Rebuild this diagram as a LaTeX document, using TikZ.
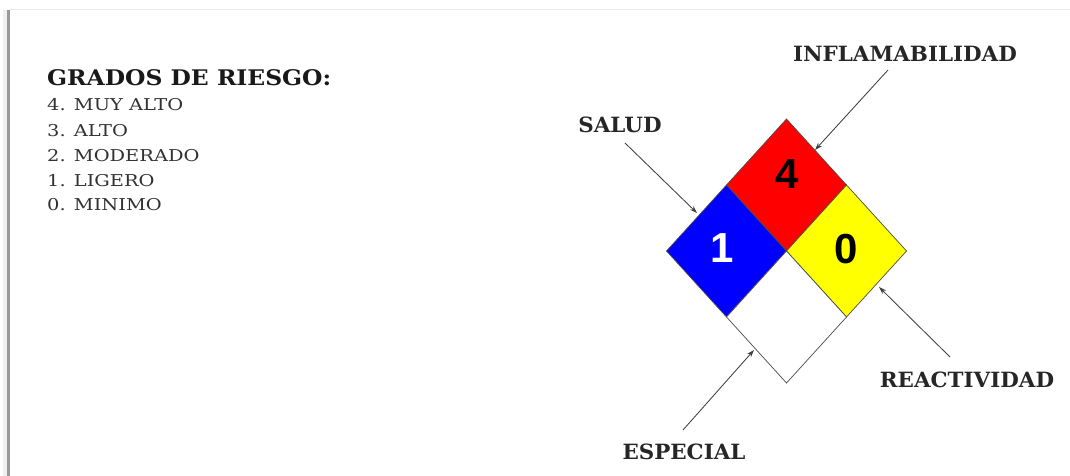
\documentclass[tikz,border=0pt]{standalone}
\usepackage{fontspec}
\setmainfont{DejaVu Serif}
\newfontfamily\numfont{Liberation Sans}
\newfontfamily\listfont[FakeStretch=1.19]{DejaVu Serif}
\newfontfamily\titlefont[FakeStretch=1.09]{DejaVu Serif}
\newfontfamily\labfont[FakeStretch=1.02]{DejaVu Serif}
\usetikzlibrary{arrows.meta}
\definecolor{nfred}{RGB}{255,0,0}
\definecolor{nfblue}{RGB}{0,0,255}
\definecolor{nfyellow}{RGB}{255,255,0}
\definecolor{txtgray}{RGB}{50,50,50}
\begin{document}
\begin{tikzpicture}[x=1pt,y=-1pt,
  sq/.style={draw=black!70,line width=0.7pt,line join=miter},
  digit/.style={font=\numfont\bfseries\fontsize{42}{42}\selectfont,inner sep=0pt,anchor=center},
  lab/.style={font=\labfont\bfseries\fontsize{21}{21}\selectfont,inner sep=0pt,anchor=base,text=black!85},
  item/.style={font=\listfont\fontsize{16.3}{16.3}\selectfont,inner sep=0pt,anchor=base west,text=txtgray},
  ptr/.style={draw=black!75,line width=0.85pt,-{Stealth[length=7.5pt,width=5pt]}}]
\useasboundingbox (0,0) rectangle (1070,476);
\fill[white] (0,0) rectangle (1070,476);
% page edge shadow
\fill[black!6] (3,10) rectangle (6.5,476);
\fill[black!40] (7,10) rectangle (9.5,476);
\fill[black!9] (9,9) rectangle (1070,10.5);
% legend
\node[font=\titlefont\bfseries\fontsize{21.5}{21.5}\selectfont,inner sep=0pt,anchor=base west,text=black!90] (title) at (47,86) {GRADOS DE RIESGO:};
\node[item] (g4) at (47,111) {4. MUY ALTO};
\node[item] (g3) at (47,136) {3. ALTO};
\node[item] (g2) at (47,161) {2. MODERADO};
\node[item] (g1) at (47,186) {1. LIGERO};
\node[item] (g0) at (47,210) {0. MINIMO};
% diamond
\coordinate (C) at (786.5,251);
\filldraw[sq,fill=nfred] (C) -- ++(-60,-66) -- ++(60,-66) -- ++(60,66) -- cycle;
\filldraw[sq,fill=nfblue] (C) -- ++(-60,-66) -- ++(-60,66) -- ++(60,66) -- cycle;
\filldraw[sq,fill=nfyellow] (C) -- ++(60,-66) -- ++(60,66) -- ++(-60,66) -- cycle;
\filldraw[sq,fill=white] (C) -- ++(-60,66) -- ++(60,66) -- ++(60,-66) -- cycle;
\node[digit,text=black] (d4) at (787,174) {4};
\node[digit,text=white] (d1) at (722,248) {1};
\node[digit,text=black] (d0) at (846,249) {0};
% labels
\node[lab] (salud) at (620,132) {SALUD};
\node[lab] (infl) at (905,62) {INFLAMABILIDAD};
\node[lab] (reac) at (967,387) {REACTIVIDAD};
\node[lab] (esp) at (684,459) {ESPECIAL};
% pointers
\coordinate (salA) at (625,143); \coordinate (salB) at (697,213);
\coordinate (infA) at (888,70);  \coordinate (infB) at (815,150);
\coordinate (reaA) at (950,357); \coordinate (reaB) at (879,287);
\coordinate (espA) at (683,430); \coordinate (espB) at (754,350);
\draw[ptr] (salA) -- (salB);
\draw[ptr] (infA) -- (infB);
\draw[ptr] (reaA) -- (reaB);
\draw[ptr] (espA) -- (espB);
\end{tikzpicture}
\end{document}
